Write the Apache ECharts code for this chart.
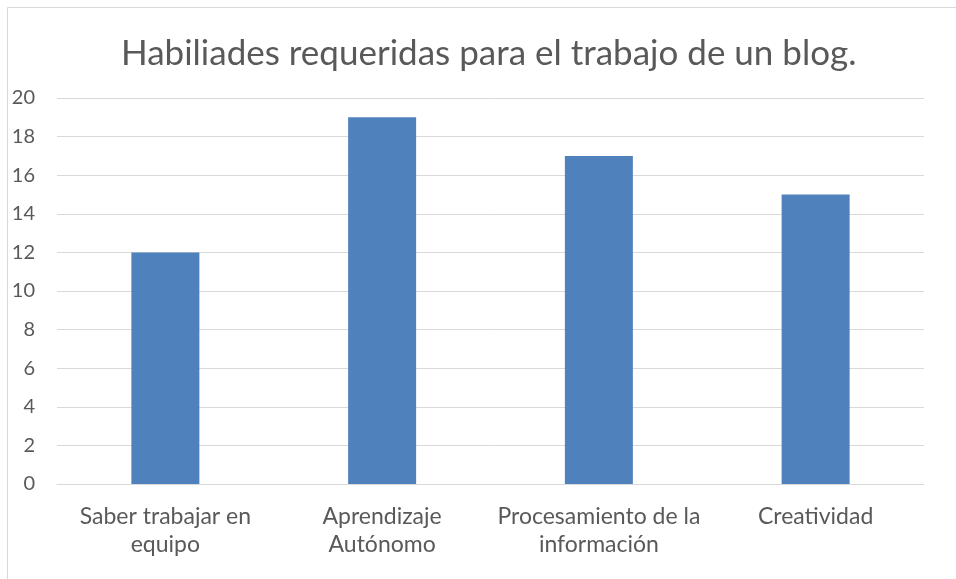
<!DOCTYPE html>
<html>
<head>
<meta charset="utf-8">
<script src="https://cdn.jsdelivr.net/npm/echarts@6/dist/echarts.min.js"></script>
<style>html,body{margin:0;padding:0;background:#fff}#c{width:956px;height:579px}</style>
</head>
<body>
<div id="c"></div>
<script>
var title = "Habiliades requeridas para el trabajo de un blog.";
var categories = ["Saber trabajar en\nequipo", "Aprendizaje\nAutónomo", "Procesamiento de la\ninformación", "Creatividad"];
var values = [12, 19, 17, 15];
var yTicks = [0, 2, 4, 6, 8, 10, 12, 14, 16, 18, 20];

var FONT = "Lato";
var chart = echarts.init(document.getElementById('c'), null, {renderer: 'canvas'});
chart.setOption({
  animation: false,
  backgroundColor: '#fff',
  graphic: [{
    type: 'rect', shape: {x: 7.5, y: 7.5, width: 1000, height: 1000},
    style: {fill: 'none', stroke: '#d9d9d9', lineWidth: 1}, silent: true
  }],
  title: {
    text: title, left: 116, top: 31,
    textStyle: {fontFamily: FONT, fontSize: 35, fontWeight: 'normal', color: '#595959'}
  },
  grid: {left: 57, right: 32, top: 98, bottom: 95, containLabel: false},
  xAxis: {
    type: 'category', data: categories,
    axisLine: {show: true, lineStyle: {color: '#d9d9d9'}},
    axisTick: {show: false},
    axisLabel: {fontFamily: FONT, fontSize: 23, color: '#595959', margin: 19, lineHeight: 28, interval: 0}
  },
  yAxis: {
    type: 'value', min: 0, max: 20, interval: 2,
    axisLine: {show: false}, axisTick: {show: false},
    splitLine: {lineStyle: {color: '#d9d9d9', width: 1}},
    axisLabel: {fontFamily: FONT, fontSize: 20, color: '#595959', margin: 22,
      formatter: function (v) { return yTicks.indexOf(v) >= 0 ? String(v) : ''; }}
  },
  series: [{
    type: 'bar', data: values, barWidth: 68,
    itemStyle: {color: '#4f81bd'}
  }]
});
</script>
</body>
</html>
